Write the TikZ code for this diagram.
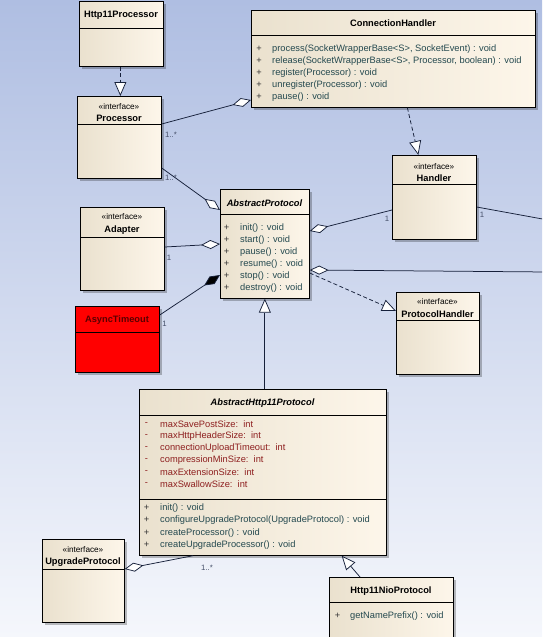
\documentclass[tikz,border=0pt]{standalone}
\usepackage{fontspec}
\setmainfont{Liberation Sans}
\usetikzlibrary{arrows.meta,shadows,calc}
\definecolor{bgtop}{HTML}{AFBEE2}
\definecolor{bgbot}{HTML}{F5F7FC}
\definecolor{boxl}{HTML}{EAE1CE}
\definecolor{boxr}{HTML}{FDF6EA}
\definecolor{meth}{HTML}{24494F}
\definecolor{attr}{HTML}{8E1F1F}
\definecolor{mult}{HTML}{46506A}
\definecolor{lnk}{HTML}{16203A}
\newcommand\mkclass[6]{%
  \node[cls, minimum width={(#4-#2)*1pt}, minimum height={(#5-#3)*1pt}] (#1) at (#2,#3) {};
  \draw[hdr] (#2,#6) -- (#4,#6);}
\begin{document}
\begin{tikzpicture}[x=1pt,y=-1pt,
  font=\fontsize{9.3}{11}\selectfont,
  cls/.style={draw=black, line width=0.7pt, anchor=north west, inner sep=0pt,
    left color=boxl, right color=boxr,
    drop shadow={shadow xshift=2.5pt, shadow yshift=-2.5pt, fill=black, opacity=0.25}},
  hdr/.style={draw=black, line width=0.7pt},
  ttl/.style={inner sep=0pt, font=\fontsize{9.3}{11}\selectfont\bfseries},
  ittl/.style={inner sep=0pt, font=\fontsize{9.3}{11}\selectfont\bfseries\itshape},
  stereo/.style={inner sep=0pt, font=\fontsize{8.2}{9}\selectfont},
  mtxt/.style={inner sep=0pt, anchor=west, text=meth},
  atxt/.style={inner sep=0pt, anchor=west, text=attr},
  vis/.style={inner sep=0pt, text=black!80},
  avis/.style={inner sep=0pt, text=attr},
  mlt/.style={inner sep=0pt, text=mult, font=\fontsize{7.8}{9}\selectfont},
  conn/.style={draw=lnk, line width=0.75pt},
  agg/.style={conn, -{Diamond[fill=white,length=19pt,width=9pt]}},
  comp/.style={conn, -{Diamond[fill=black,length=19pt,width=9pt]}},
  real/.style={conn, dash pattern=on 4pt off 2.5pt, -{Triangle[fill=white,length=14pt,width=12pt,line width=0.75pt]}},
  gen/.style={conn, -{Triangle[fill=white,length=14pt,width=12pt,line width=0.75pt]}}]
\useasboundingbox (0,0) rectangle (542,637);
\clip (0,0) rectangle (542,637);
\fill[top color=bgtop, bottom color=bgbot] (0,0) rectangle (542,637);

% classes
\mkclass{h11p}{79}{1}{163}{66}{28}
\mkclass{proc}{77}{96}{161}{178}{124}
\mkclass{ch}{251}{10}{535}{107}{35}
\mkclass{hand}{392}{155}{476}{239}{184}
\mkclass{ap}{220}{189}{309}{298}{214}
\mkclass{adapt}{80}{207}{164}{290}{237}
\node[cls, left color=red, right color=red, minimum width=84pt, minimum height=66pt] (async) at (75,306) {};
\draw[hdr] (75,332) -- (159,332);
\mkclass{ph}{396}{292}{479}{374}{320}
\mkclass{ah}{139}{389}{386}{555}{415}
\draw[hdr] (139,499) -- (386,499);
\mkclass{up}{42}{539}{124}{622}{569}
\mkclass{nio}{329}{577}{453}{660}{602}

% texts
\node[ttl] (t-h11p) at (121,15) {Http11Processor};
\node[stereo] (s-proc) at (119,107) {«interface»};
\node[ttl] (t-proc) at (119,118.5) {Processor};
\node[ttl] (t-ch) at (393,23) {ConnectionHandler};
\foreach \i/\yy/\tx in {1/49/{process(SocketWrapperBase<S>, SocketEvent) : void},
  2/61/{release(SocketWrapperBase<S>, Processor, boolean) : void},
  3/73/{register(Processor) : void},
  4/85/{unregister(Processor) : void},
  5/97/{pause() : void}}{
  \node[vis] (ch-v\i) at (259,\yy) {+};
  \node[mtxt] (ch-m\i) at (272,\yy) {\tx};}
\node[stereo] (s-hand) at (434,167) {«interface»};
\node[ttl] (t-hand) at (434,178.5) {Handler};
\node[ittl] (t-ap) at (264.5,203) {AbstractProtocol};
\foreach \i/\yy/\tx in {1/228/{init() : void},2/240/{start() : void},3/252/{pause() : void},
  4/264/{resume() : void},5/276/{stop() : void},6/288/{destroy() : void}}{
  \node[vis] (ap-v\i) at (226.5,\yy) {+};
  \node[mtxt] (ap-m\i) at (240,\yy) {\tx};}
\node[stereo] (s-adapt) at (122,217) {«interface»};
\node[ttl] (t-adapt) at (122,230) {Adapter};
\node[ttl, text=red!35!black] (t-async) at (117,320) {AsyncTimeout};
\node[stereo] (s-ph) at (437.5,302) {«interface»};
\node[ttl] (t-ph) at (437.5,314) {ProtocolHandler};
\node[ittl] (t-ah) at (262.5,403) {AbstractHttp11Protocol};
\foreach \i/\yy/\tx in {1/424/{maxSavePostSize:\ \ int},2/436/{maxHttpHeaderSize:\ \ int},
  3/448/{connectionUploadTimeout:\ \ int},4/460/{compressionMinSize:\ \ int},
  5/472/{maxExtensionSize:\ \ int},6/484/{maxSwallowSize:\ \ int}}{
  \node[avis] (ah-a\i) at (146.5,\yy) {-};
  \node[atxt] (ah-t\i) at (160,\yy) {\tx};}
\foreach \i/\yy/\tx in {1/508/{init() : void},2/520/{configureUpgradeProtocol(UpgradeProtocol) : void},
  3/533/{createProcessor() : void},4/545/{createUpgradeProcessor() : void}}{
  \node[vis] (ah-v\i) at (146.5,\yy) {+};
  \node[mtxt] (ah-m\i) at (160,\yy) {\tx};}
\node[stereo] (s-up) at (83,550) {«interface»};
\node[ttl] (t-up) at (83,562) {UpgradeProtocol};
\node[ttl] (t-nio) at (391,591) {Http11NioProtocol};
\node[vis] (nio-v1) at (337.5,616) {+};
\node[mtxt] (nio-m1) at (350,616) {getNamePrefix() : void};

% off-picture ends
\coordinate (rh) at (548,220);
\coordinate (ra) at (548,272);

% connectors
\draw[real] ([xshift=-1pt]h11p.south) -- ([xshift=1pt]proc.north);
\draw[agg] ([yshift=-28pt]proc.north east) -- ([yshift=-90pt]ch.north west);
\draw[agg] ([yshift=-72pt]proc.north east) -- ([yshift=-21pt]ap.north west);
\draw[agg] ([yshift=-40pt]adapt.north east) -- ([yshift=-55pt]ap.north west);
\draw[comp] ([yshift=-9pt]async.north east) -- ([yshift=-86pt]ap.north west);
\draw[agg] ([yshift=-55pt]hand.north west) -- ([yshift=-42pt]ap.north east);
\draw[conn] ([yshift=-52pt]hand.north east) -- (rh);
\draw[agg] (ra) -- ([yshift=-81pt]ap.north east);
\draw[real] ([yshift=-84pt]ap.north east) -- ([yshift=-19pt]ph.north west);
\draw[real] ([xshift=14pt]ch.south) -- ([xshift=-16pt]hand.north);
\draw[gen] (ap.south |- ah.north) -- (ap.south);
\draw[agg] ([xshift=54pt]ah.south west) -- ([yshift=-30pt]up.north east);
\draw[gen] ([xshift=31pt]nio.north west) -- ([xshift=-45pt]ah.south east);

% multiplicities
\node[mlt] (m1) at (171,135) {1..*};
\node[mlt] (m2) at (171,178) {1..*};
\node[mlt] (m3) at (169,258) {1};
\node[mlt] (m4) at (164.5,324) {1};
\node[mlt] (m5) at (387,219) {1};
\node[mlt] (m6) at (482,215) {1};
\node[mlt] (m7) at (207,568) {1..*};
\end{tikzpicture}
\end{document}
